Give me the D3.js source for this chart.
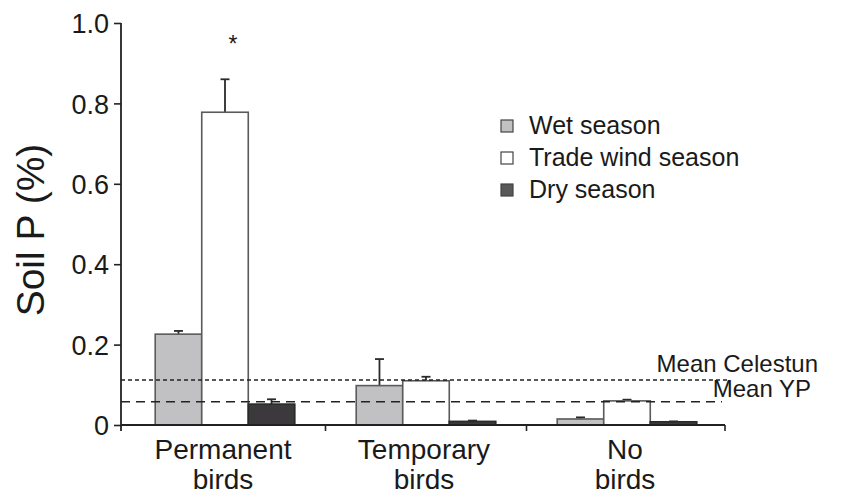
<!DOCTYPE html>
<html>
<head>
<meta charset="utf-8">
<script src="https://cdn.jsdelivr.net/npm/d3@7/dist/d3.min.js"></script>
<style>
  body { margin: 0; background: #fff; }
  text { font-family: "Liberation Sans", Arial, sans-serif; fill: #1a1a1a; }
</style>
</head>
<body>
<svg id="chart" width="848" height="497"></svg>
<script>
// data
var categories = [['Permanent', 'birds'], ['Temporary', 'birds'], ['No', 'birds']];
var seasons = ['Wet season', 'Trade wind season', 'Dry season'];
var wetValues = [0.226, 0.098, 0.015];
var wetErrors = [0.008, 0.066, 0.004];
var tradeValues = [0.778, 0.110, 0.060];
var tradeErrors = [0.082, 0.010, 0.003];
var dryValues = [0.052, 0.009, 0.008];
var dryErrors = [0.012, 0.002, 0.001];
var yTicks = [0, 0.2, 0.4, 0.6, 0.8, 1.0];
var meanLines = [
  {label: 'Mean Celestun', value: 0.112},
  {label: 'Mean YP', value: 0.058}
];

var fills = ['#c1c1c3', '#ffffff', '#3b393c'];
var strokes = ['#5a5a5a', '#5a5a5a', '#2a2a2a'];

var svg = d3.select('#chart');
var plotLeft = 121, plotRight = 725, plotTop = 23, plotBottom = 425;

var y = d3.scaleLinear().domain([0, 1]).range([plotBottom, plotTop]);
// category bands are centred on the bar groups; axis line itself runs plotLeft..plotRight
var x0 = d3.scaleBand()
  .domain(d3.range(categories.length))
  .range([124.5, 727.5])
  .padding(0);
var x1 = d3.scaleBand()
  .domain(d3.range(seasons.length))
  .range([0, x0.bandwidth()])
  .paddingInner(0)
  .paddingOuter(0.66);

var series = [wetValues, tradeValues, dryValues];
var errs = [wetErrors, tradeErrors, dryErrors];

var rows = [];
categories.forEach(function(c, i) {
  seasons.forEach(function(s, j) {
    rows.push({cat: i, ser: j, v: series[j][i], e: errs[j][i]});
  });
});

// error bars (drawn first so bar outline sits on top)
var eb = svg.append('g').attr('stroke', '#2a2a2a').attr('stroke-width', 1.8);
rows.forEach(function(d) {
  var cx = x0(d.cat) + x1(d.ser) + x1.bandwidth() / 2;
  eb.append('line').attr('x1', cx).attr('x2', cx)
    .attr('y1', y(d.v)).attr('y2', y(d.v + d.e));
  eb.append('line').attr('x1', cx - 4.5).attr('x2', cx + 4.5)
    .attr('y1', y(d.v + d.e)).attr('y2', y(d.v + d.e));
});

// bars
svg.append('g').selectAll('rect')
  .data(rows)
  .enter().append('rect')
  .attr('x', function(d) { return x0(d.cat) + x1(d.ser); })
  .attr('y', function(d) { return y(d.v); })
  .attr('width', x1.bandwidth())
  .attr('height', function(d) { return y(0) - y(d.v); })
  .attr('fill', function(d) { return fills[d.ser]; })
  .attr('stroke', function(d) { return strokes[d.ser]; })
  .attr('stroke-width', 1.6);

// significance mark
svg.append('text')
  .attr('x', x0(0) + x1(1) + x1.bandwidth() / 2 + 8)
  .attr('y', y(tradeValues[0] + tradeErrors[0]) - 27)
  .attr('text-anchor', 'middle')
  .style('font-size', '23px')
  .text('*');

// mean lines
var dashes = ['4,3', '9,6'];
var ends = [730, 722];
meanLines.forEach(function(m, i) {
  svg.append('line')
    .attr('x1', plotLeft).attr('x2', ends[i])
    .attr('y1', y(m.value)).attr('y2', y(m.value))
    .attr('stroke', '#222').attr('stroke-width', 1.5)
    .attr('stroke-dasharray', dashes[i]);
});
svg.append('text').attr('x', 818).attr('y', 372).attr('text-anchor', 'end')
  .style('font-size', '24px').text(meanLines[0].label);
svg.append('text').attr('x', 811).attr('y', 397).attr('text-anchor', 'end')
  .style('font-size', '24px').text(meanLines[1].label);

// y axis
var yAxis = d3.axisLeft(y).tickValues(yTicks).tickSize(7).tickSizeOuter(0)
  .tickFormat(function(d) { return d === 0 ? '0' : d3.format('.1f')(d); });
var gy = svg.append('g')
  .attr('transform', 'translate(' + plotLeft + ',0)')
  .call(yAxis);
gy.select('.domain').remove();
gy.selectAll('line').attr('stroke', '#222').attr('stroke-width', 1.6);
gy.selectAll('text').attr('x', -12).attr('dy', '0.36em')
  .style('font-size', '27px').style('font-family', '"Liberation Sans", Arial, sans-serif')
  .attr('fill', '#1a1a1a');
svg.append('line').attr('x1', plotLeft).attr('x2', plotLeft)
  .attr('y1', plotTop).attr('y2', plotBottom + 6)
  .attr('stroke', '#222').attr('stroke-width', 1.8);

// x axis
svg.append('line').attr('x1', plotLeft).attr('x2', plotRight)
  .attr('y1', plotBottom).attr('y2', plotBottom)
  .attr('stroke', '#222').attr('stroke-width', 1.8);
svg.append('g').selectAll('line')
  .data([x0(1), x0(2), plotRight])
  .enter().append('line')
  .attr('x1', function(d) { return d; })
  .attr('x2', function(d) { return d; })
  .attr('y1', plotBottom).attr('y2', plotBottom + 6)
  .attr('stroke', '#222').attr('stroke-width', 1.6);

var catLabels = svg.append('g').selectAll('text')
  .data(categories)
  .enter().append('text')
  .attr('text-anchor', 'middle')
  .style('font-size', '28px');
catLabels.append('tspan').attr('y', 459)
  .attr('x', function(d, i) { return x0(i) + x0.bandwidth() / 2 - 2; })
  .text(function(d) { return d[0]; });
catLabels.append('tspan').attr('y', 489)
  .attr('x', function(d, i) { return x0(i) + x0.bandwidth() / 2 - 2; })
  .text(function(d) { return d[1]; });

// y label
svg.append('text')
  .attr('transform', 'translate(44,230) rotate(-90)')
  .attr('text-anchor', 'middle')
  .style('font-size', '39px')
  .text('Soil P (%)');

// legend
var legend = svg.append('g').selectAll('g')
  .data(seasons)
  .enter().append('g')
  .attr('transform', function(d, i) { return 'translate(501,' + (126 + i * 32) + ')'; });
legend.append('rect')
  .attr('x', 0).attr('y', -6).attr('width', 12).attr('height', 12)
  .attr('fill', function(d, i) { return i === 2 ? '#5a585b' : fills[i]; })
  .attr('stroke', '#444').attr('stroke-width', 1.2);
legend.append('text')
  .attr('x', 28).attr('y', 8)
  .style('font-size', '25px')
  .text(function(d) { return d; });
</script>
</body>
</html>
